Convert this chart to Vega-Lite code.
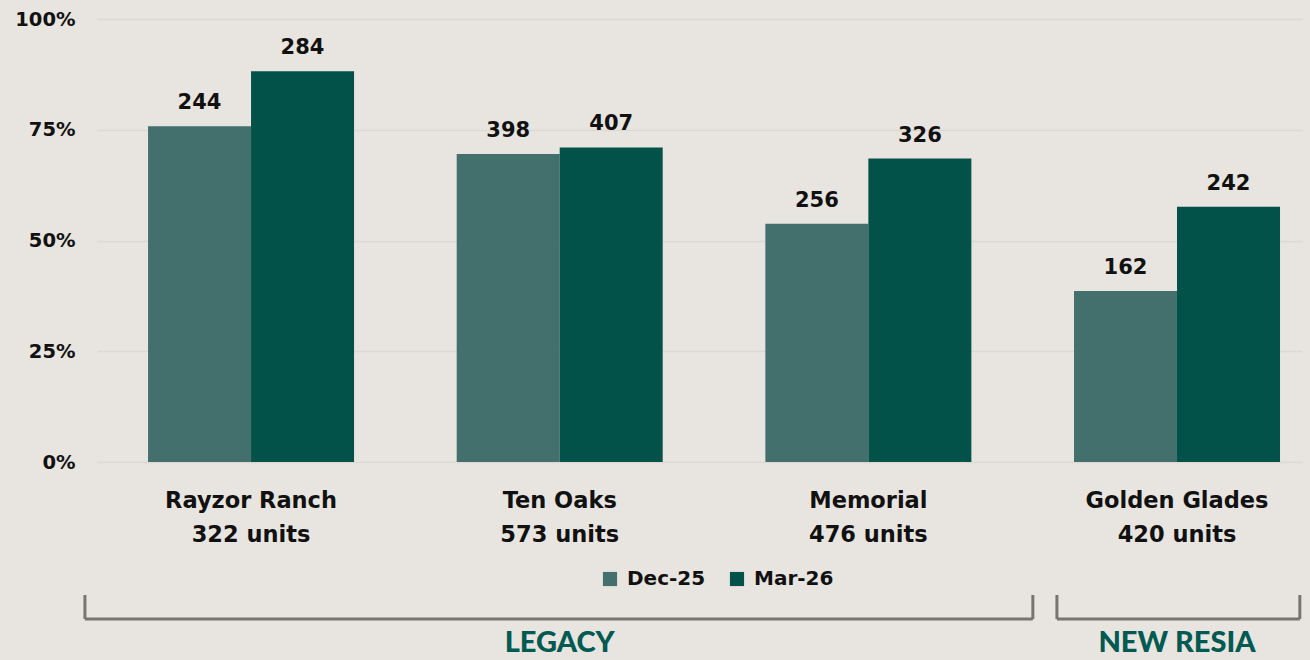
{
  "$schema": "https://vega.github.io/schema/vega-lite/v6.json",
  "autosize": {"type": "none"},
  "width": 1205,
  "height": 443,
  "padding": {"left": 97, "top": 19, "right": 8, "bottom": 198},
  "background": "#e8e4df",
  "config": {
    "view": {"stroke": null},
    "font": "DejaVu Sans",
    "axis": {"labelFont": "DejaVu Sans", "labelFontWeight": "bold", "labelColor": "#111111"},
    "legend": {"labelFont": "DejaVu Sans", "labelFontWeight": "bold"}
  },
  "datasets": {
    "bars": [
      {"site": "Rayzor Ranch|322 units", "period": "Dec-25", "count": 244, "pct": 0.758},
      {"site": "Rayzor Ranch|322 units", "period": "Mar-26", "count": 284, "pct": 0.882},
      {"site": "Ten Oaks|573 units", "period": "Dec-25", "count": 398, "pct": 0.695},
      {"site": "Ten Oaks|573 units", "period": "Mar-26", "count": 407, "pct": 0.710},
      {"site": "Memorial|476 units", "period": "Dec-25", "count": 256, "pct": 0.538},
      {"site": "Memorial|476 units", "period": "Mar-26", "count": 326, "pct": 0.685},
      {"site": "Golden Glades|420 units", "period": "Dec-25", "count": 162, "pct": 0.386},
      {"site": "Golden Glades|420 units", "period": "Mar-26", "count": 242, "pct": 0.576}
    ],
    "brackets": [
      {"name": "LEGACY", "start": -0.538, "end": 2.533, "mid": 1.0},
      {"name": "NEW RESIA", "start": 2.611, "end": 3.398, "mid": 3.0}
    ]
  },
  "resolve": {"scale": {"x": "independent", "y": "independent"}, "axis": {"x": "independent", "y": "independent"}},
  "layer": [
    {
      "data": {"name": "bars"},
      "layer": [
        {
          "mark": {"type": "bar"},
          "encoding": {
            "x": {
              "field": "site", "type": "nominal", "sort": null, "title": null,
              "scale": {"paddingInner": 0.3326, "paddingOuter": 0.1183, "align": 0.699},
              "axis": {"labelExpr": "split(datum.label, '|')", "labelFontSize": 22.5, "labelLineHeight": 34, "labelPadding": 27, "labelAngle": 0, "labelLimit": 0, "ticks": false, "domain": false, "labelBaseline": "top"}
            },
            "xOffset": {"field": "period", "type": "nominal", "sort": ["Dec-25", "Mar-26"], "scale": {"paddingInner": 0, "paddingOuter": 0}},
            "y": {
              "field": "pct", "type": "quantitative", "title": null,
              "scale": {"domain": [0, 1]},
              "axis": {"values": [0, 0.25, 0.5, 0.75, 1], "format": ".0%", "labelFontSize": 19.5, "labelPadding": 22, "ticks": false, "domain": false, "grid": true, "gridColor": "#dcd8d2", "gridWidth": 1.5}
            },
            "color": {
              "field": "period", "type": "nominal", "sort": ["Dec-25", "Mar-26"],
              "scale": {"domain": ["Dec-25", "Mar-26"], "range": ["#436f6d", "#02524a"]},
              "legend": {"title": null, "orient": "none", "direction": "horizontal", "legendX": 503, "legendY": 550, "symbolType": "square", "symbolSize": 200, "symbolStrokeWidth": 0, "symbolOpacity": 1, "labelFontSize": 20, "labelColor": "#111111", "columnPadding": 21, "labelOffset": 7, "padding": 0}
            }
          }
        },
        {
          "mark": {"type": "text", "baseline": "bottom", "dy": -13, "fontSize": 21, "fontWeight": "bold", "color": "#111111"},
          "encoding": {
            "x": {"field": "site", "type": "nominal", "sort": null},
            "xOffset": {"field": "period", "type": "nominal", "sort": ["Dec-25", "Mar-26"]},
            "y": {"field": "pct", "type": "quantitative"},
            "text": {"field": "count", "type": "quantitative"}
          }
        }
      ]
    },
    {
      "data": {"name": "brackets"},
      "layer": [
        {
          "mark": {"type": "rule", "color": "#76766e", "strokeWidth": 3},
          "encoding": {
            "x": {"field": "start", "type": "quantitative", "scale": {"domain": [-0.4989, 3.405], "nice": false, "zero": false}, "axis": null},
            "x2": {"field": "end"},
            "y": {"datum": 0, "type": "quantitative", "scale": {"domain": [0, 1], "range": [600, 576]}, "axis": null}
          }
        },
        {
          "mark": {"type": "rule", "color": "#76766e", "strokeWidth": 3},
          "encoding": {
            "x": {"field": "start", "type": "quantitative"},
            "y": {"datum": 0, "type": "quantitative"},
            "y2": {"datum": 1}
          }
        },
        {
          "mark": {"type": "rule", "color": "#76766e", "strokeWidth": 3},
          "encoding": {
            "x": {"field": "end", "type": "quantitative"},
            "y": {"datum": 0, "type": "quantitative"},
            "y2": {"datum": 1}
          }
        },
        {
          "mark": {"type": "text", "font": "Lato", "baseline": "alphabetic", "align": "center", "fontSize": 29, "fontWeight": 900, "color": "#005a52"},
          "encoding": {
            "x": {"field": "mid", "type": "quantitative"},
            "y": {"datum": -1.38, "type": "quantitative"},
            "text": {"field": "name"}
          }
        }
      ]
    }
  ]
}
